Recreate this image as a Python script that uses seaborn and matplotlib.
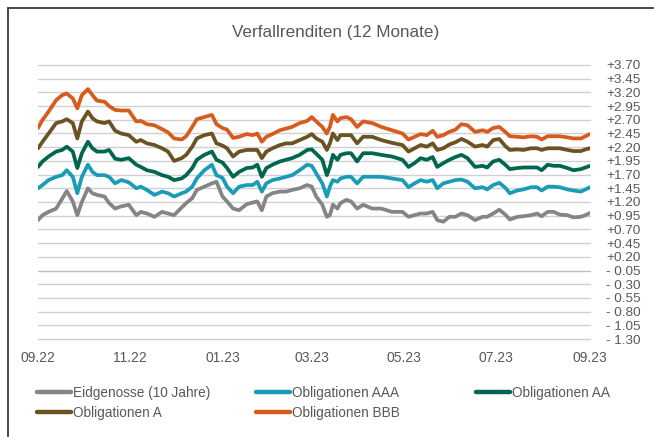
import numpy as np
import pandas as pd
import matplotlib
matplotlib.use("Agg")
import matplotlib.pyplot as plt
import matplotlib.dates as mdates
from matplotlib.lines import Line2D
import seaborn as sns

# Verfallrenditen (12 Monate)

dates = [
    "2022-09-01", "2022-09-04", "2022-09-08", "2022-09-13", "2022-09-17", "2022-09-20",
    "2022-09-24", "2022-09-27", "2022-09-30", "2022-10-04", "2022-10-07", "2022-10-10",
    "2022-10-15", "2022-10-18", "2022-10-22", "2022-10-26", "2022-10-31", "2022-11-05",
    "2022-11-08", "2022-11-12", "2022-11-17", "2022-11-22", "2022-11-26", "2022-11-30",
    "2022-12-05", "2022-12-08", "2022-12-12", "2022-12-15", "2022-12-20", "2022-12-25",
    "2022-12-28", "2023-01-01", "2023-01-04", "2023-01-08", "2023-01-12", "2023-01-17",
    "2023-01-21", "2023-01-24", "2023-01-27", "2023-01-30", "2023-02-03", "2023-02-08",
    "2023-02-12", "2023-02-16", "2023-02-21", "2023-02-26", "2023-03-01", "2023-03-04",
    "2023-03-08", "2023-03-11", "2023-03-13", "2023-03-15", "2023-03-18", "2023-03-20",
    "2023-03-24", "2023-03-27", "2023-03-31", "2023-04-04", "2023-04-10", "2023-04-16",
    "2023-04-23", "2023-04-30", "2023-05-04", "2023-05-08", "2023-05-12", "2023-05-16",
    "2023-05-20", "2023-05-23", "2023-05-27", "2023-05-31", "2023-06-04", "2023-06-08",
    "2023-06-12", "2023-06-17", "2023-06-22", "2023-06-25", "2023-06-29", "2023-07-03",
    "2023-07-07", "2023-07-10", "2023-07-15", "2023-07-19", "2023-07-24", "2023-07-28",
    "2023-07-31", "2023-08-04", "2023-08-08", "2023-08-12", "2023-08-17", "2023-08-21",
    "2023-08-26", "2023-08-29", "2023-09-01",
]

eidgenosse = [
    0.87, 0.96, 1.02, 1.08, 1.26, 1.40, 1.21, 0.96, 1.20, 1.45, 1.36, 1.33,
    1.30, 1.18, 1.08, 1.12, 1.15, 0.96, 1.02, 0.99, 0.93, 1.02, 0.99, 0.96,
    1.10, 1.18, 1.27, 1.42, 1.48, 1.54, 1.57, 1.30, 1.21, 1.08, 1.05, 1.16,
    1.19, 1.21, 1.05, 1.30, 1.36, 1.39, 1.39, 1.42, 1.45, 1.51, 1.48, 1.30,
    1.15, 0.93, 0.96, 1.15, 1.08, 1.18, 1.24, 1.21, 1.08, 1.15, 1.08, 1.08,
    1.02, 1.02, 0.93, 0.96, 0.99, 0.99, 1.02, 0.87, 0.84, 0.93, 0.93, 0.99,
    0.96, 0.87, 0.93, 0.93, 0.99, 1.06, 0.97, 0.88, 0.93, 0.94, 0.96, 0.99,
    0.94, 1.02, 1.02, 0.97, 0.96, 0.92, 0.93, 0.96, 1.00,
]

oblig_aaa = [
    1.45, 1.51, 1.60, 1.66, 1.69, 1.78, 1.66, 1.36, 1.66, 1.88, 1.75, 1.69,
    1.69, 1.66, 1.54, 1.60, 1.56, 1.45, 1.48, 1.42, 1.33, 1.39, 1.36, 1.30,
    1.36, 1.39, 1.48, 1.63, 1.78, 1.88, 1.69, 1.64, 1.48, 1.36, 1.48, 1.51,
    1.51, 1.57, 1.39, 1.54, 1.60, 1.63, 1.66, 1.69, 1.78, 1.88, 1.86, 1.72,
    1.54, 1.30, 1.48, 1.60, 1.57, 1.63, 1.66, 1.66, 1.54, 1.66, 1.66, 1.66,
    1.63, 1.60, 1.47, 1.54, 1.60, 1.57, 1.60, 1.45, 1.54, 1.57, 1.60, 1.61,
    1.57, 1.45, 1.47, 1.43, 1.51, 1.55, 1.46, 1.36, 1.41, 1.43, 1.47, 1.47,
    1.41, 1.48, 1.48, 1.47, 1.43, 1.41, 1.39, 1.43, 1.47,
]

oblig_aa = [
    1.84, 1.94, 2.03, 2.12, 2.15, 2.21, 2.12, 1.82, 2.09, 2.30, 2.18, 2.12,
    2.12, 2.15, 1.99, 1.97, 2.00, 1.88, 1.84, 1.78, 1.75, 1.69, 1.66, 1.60,
    1.63, 1.69, 1.82, 1.97, 2.06, 2.12, 1.97, 1.92, 1.82, 1.66, 1.75, 1.82,
    1.83, 1.88, 1.66, 1.82, 1.88, 1.94, 1.97, 2.00, 2.06, 2.15, 2.16, 2.08,
    1.97, 1.69, 1.84, 2.06, 1.97, 2.06, 2.09, 2.09, 1.94, 2.09, 2.09, 2.06,
    2.03, 1.97, 1.84, 1.91, 2.00, 1.97, 2.02, 1.84, 1.91, 1.97, 2.02, 2.06,
    2.00, 1.84, 1.86, 1.83, 1.94, 1.97, 1.88, 1.80, 1.82, 1.83, 1.83, 1.83,
    1.78, 1.88, 1.86, 1.86, 1.82, 1.78, 1.80, 1.83, 1.86,
]

oblig_a = [
    2.18, 2.30, 2.45, 2.64, 2.67, 2.71, 2.64, 2.36, 2.67, 2.85, 2.73, 2.67,
    2.64, 2.67, 2.50, 2.45, 2.42, 2.30, 2.33, 2.27, 2.24, 2.18, 2.12, 1.95,
    2.00, 2.06, 2.21, 2.36, 2.42, 2.45, 2.27, 2.23, 2.18, 2.03, 2.12, 2.15,
    2.15, 2.15, 2.00, 2.12, 2.18, 2.24, 2.27, 2.27, 2.33, 2.39, 2.44, 2.36,
    2.30, 2.15, 2.27, 2.45, 2.33, 2.42, 2.42, 2.42, 2.27, 2.39, 2.39, 2.33,
    2.28, 2.24, 2.12, 2.18, 2.24, 2.21, 2.27, 2.15, 2.18, 2.25, 2.29, 2.35,
    2.30, 2.21, 2.24, 2.21, 2.33, 2.35, 2.22, 2.15, 2.16, 2.15, 2.18, 2.18,
    2.15, 2.18, 2.18, 2.18, 2.15, 2.13, 2.13, 2.16, 2.18,
]

oblig_bbb = [
    2.55, 2.70, 2.85, 3.06, 3.15, 3.18, 3.09, 2.91, 3.15, 3.26, 3.15, 3.05,
    3.03, 2.95, 2.88, 2.87, 2.87, 2.67, 2.68, 2.62, 2.60, 2.53, 2.47, 2.36,
    2.34, 2.40, 2.57, 2.71, 2.75, 2.79, 2.62, 2.55, 2.52, 2.37, 2.39, 2.44,
    2.42, 2.45, 2.30, 2.39, 2.44, 2.51, 2.54, 2.57, 2.64, 2.68, 2.75, 2.67,
    2.57, 2.45, 2.57, 2.79, 2.67, 2.73, 2.75, 2.71, 2.57, 2.67, 2.64, 2.57,
    2.51, 2.45, 2.34, 2.39, 2.44, 2.42, 2.50, 2.39, 2.42, 2.48, 2.52, 2.62,
    2.60, 2.48, 2.51, 2.48, 2.55, 2.57, 2.48, 2.40, 2.39, 2.38, 2.40, 2.39,
    2.34, 2.40, 2.40, 2.40, 2.38, 2.36, 2.36, 2.40, 2.44,
]

series_names = ["Eidgenosse (10 Jahre)", "Obligationen AAA", "Obligationen AA",
                "Obligationen A", "Obligationen BBB"]
series_colors = ["#858585", "#1a9cb8", "#00674f", "#6a5223", "#d75b1d"]
y_ticks = [-1.30, -1.05, -0.80, -0.55, -0.30, -0.05, 0.20, 0.45, 0.70, 0.95,
           1.20, 1.45, 1.70, 1.95, 2.20, 2.45, 2.70, 2.95, 3.20, 3.45, 3.70]

df = pd.DataFrame({
    "Datum": pd.to_datetime(dates),
    series_names[0]: eidgenosse,
    series_names[1]: oblig_aaa,
    series_names[2]: oblig_aa,
    series_names[3]: oblig_a,
    series_names[4]: oblig_bbb,
})
long_df = df.melt(id_vars="Datum", var_name="Serie", value_name="Rendite")

sns.set_theme(style="white")
plt.rcParams["font.family"] = ["Liberation Sans", "DejaVu Sans"]
text_col = "#595959"

fig = plt.figure(figsize=(6.54, 4.37), dpi=100)
ax = fig.add_axes([38 / 654, 1 - 339 / 437, 552 / 654, 274 / 437])

# grid lines
for v in y_ticks:
    ax.axhline(v, color="#d0d0d0" if abs(v + 0.05) > 1e-6 else "#bfbfbf",
               lw=1.0, zorder=0, clip_on=False)

sns.lineplot(data=long_df, x="Datum", y="Rendite", hue="Serie",
             palette=dict(zip(series_names, series_colors)),
             hue_order=series_names, estimator=None, lw=2.7,
             legend=False, ax=ax)

ax.set_xlim(pd.Timestamp("2022-09-01"), pd.Timestamp("2023-09-01"))
ax.set_ylim(-1.30, 3.70)
ax.set_xlabel("")
ax.set_ylabel("")
for s in ax.spines.values():
    s.set_visible(False)

ax.yaxis.tick_right()
ax.set_yticks(y_ticks)
ax.set_yticklabels([("+%.2f" % v) if v > 0 else ("- %.2f" % abs(v)) for v in y_ticks])
ax.tick_params(axis="y", length=0, pad=11.5, labelsize=9.7, labelcolor=text_col)

ax.xaxis.set_major_locator(mdates.MonthLocator(bymonth=[1, 3, 5, 7, 9, 11]))
ax.xaxis.set_major_formatter(mdates.DateFormatter("%m.%y"))
ax.tick_params(axis="x", length=0, pad=9, labelsize=10, labelcolor=text_col)

fig.text(336 / 654, 1 - 33 / 437, "Verfallrenditen (12 Monate)", ha="center",
         va="center", fontsize=12.3, color=text_col)

# legend, three columns placed like the original
handles = {n: Line2D([], [], color=c, lw=3.2) for n, c in zip(series_names, series_colors)}
columns = [
    (37, [series_names[0], series_names[3]]),
    (256, [series_names[1], series_names[4]]),
    (476, [series_names[2]]),
]
for x0, names in columns:
    leg = fig.legend([handles[n] for n in names], names, loc="upper left",
                     bbox_to_anchor=(x0 / 654, 1 - 386 / 437), frameon=False,
                     fontsize=9.8, handlelength=2.5, handletextpad=0.15,
                     borderpad=0, borderaxespad=0, labelspacing=0.45)
    for t in leg.get_texts():
        t.set_color(text_col)

# outer frame of the chart box
fig.add_artist(Line2D([8 / 654, 8 / 654], [0, 1 - 8 / 437], color="#3a3a3a", lw=1.3))
fig.add_artist(Line2D([8 / 654, 1], [1 - 8 / 437, 1 - 8 / 437], color="#3a3a3a", lw=1.3))

fig.savefig("out.png", dpi=100, facecolor="white")
